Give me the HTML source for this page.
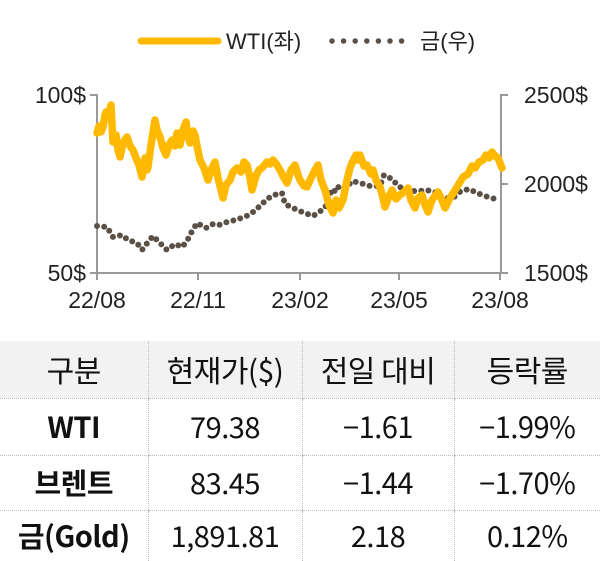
<!DOCTYPE html>
<html><head><meta charset="utf-8"><style>
body{margin:0;background:#fff;width:600px;height:561px;overflow:hidden;font-family:"Liberation Sans","Noto Sans CJK KR",sans-serif;}
table{position:absolute;left:0;top:341px;width:600px;border-collapse:collapse;table-layout:fixed;}
td{text-align:center;color:#111;font-size:29px;line-height:1;padding:0;border-left:1px dotted #bbb;border-bottom:1px dotted #bbb;letter-spacing:-0.5px;font-family:"Noto Sans CJK KR","Liberation Sans",sans-serif;}
td:first-child{border-left:none;}
tr.h td{background:#f2f2f2;font-size:30px;}
tr td:first-child{font-weight:bold;}
tr.h td:first-child{font-weight:normal;}
</style></head><body>
<svg width="600" height="340" style="position:absolute;left:0;top:0" font-family="Liberation Sans, Noto Sans CJK KR, sans-serif">
<line x1="141" y1="41" x2="218" y2="41" stroke="#ffb900" stroke-width="7" stroke-linecap="round"/>
<text x="226" y="49" font-size="22" fill="#222">WTI(좌)</text>
<line x1="332" y1="41" x2="402" y2="41" stroke="#5a5048" stroke-width="5.5" stroke-linecap="round" stroke-dasharray="0 11.6"/>
<text x="420" y="49" font-size="22" fill="#222">금(우)</text>
<g stroke="#999" stroke-width="2" fill="none">
<polyline points="90,95 97,95 97,273 501,273 501,95 508,95"/>
<line x1="90" y1="273" x2="97" y2="273"/><line x1="501" y1="184" x2="508" y2="184"/><line x1="501" y1="273" x2="508" y2="273"/>
<line x1="97" y1="273" x2="97" y2="280"/><line x1="198" y1="273" x2="198" y2="280"/><line x1="300" y1="273" x2="300" y2="280"/><line x1="399" y1="273" x2="399" y2="280"/><line x1="500" y1="273" x2="500" y2="280"/>
</g>
<g font-size="23" fill="#222">
<text x="86" y="103" text-anchor="end">100$</text>
<text x="86" y="281" text-anchor="end">50$</text>
<text x="524" y="103">2500$</text>
<text x="524" y="192">2000$</text>
<text x="524" y="281">1500$</text>
<g text-anchor="middle"><text x="97" y="308">22/08</text><text x="198" y="308">22/11</text><text x="300" y="308">23/02</text><text x="399" y="308">23/05</text><text x="500" y="308">23/08</text></g>
</g>
<polyline fill="none" stroke="#5a5048" stroke-width="6" stroke-linecap="round" stroke-dasharray="0 7.2" points="97,226 107,227 113,237 122,235 128,240 137,243 142,250 148,242 153,236 160,243 167,250 175,244 182,247 187,241 191,233 197,223 206,228 213,224 219,225 227,222 232,221 238,219 245,217 253,212 260,206 267,199 274,195 282,193 285,204 293,208 302,212 313,216 319,212 325,208 328,200 332,189 336,192 339,186 346,188 352,181 360,183 370,186 380,186 384,175 392,179 399,187 406,188 413,191 420,191 426,190 435,192 443,198 453,198 461,191 469,189 477,193 485,196 495,199"/>
<polyline fill="none" stroke="#ffb900" stroke-width="7.5" stroke-linejoin="round" stroke-linecap="round" points="97,133 99,126 101,132 103,127 105,115 106,112 108,118 111,105 112,125 113,142 116,135 118,150 120,157 123,143 127,137 130,146 133,150 136,158 139,165 142,177 144,162 145,158 147,170 148,167 151,145 155,120 157,130 160,137 163,148 166,155 169,145 172,140 175,146 177,133 179,138 180,145 183,130 186,122 188,136 190,143 193,131 195,135 197,146 200,160 204,168 208,180 211,170 215,162 218,178 221,190 223,198 226,185 230,180 233,172 237,168 241,172 244,162 247,165 250,178 252,190 256,176 259,170 262,168 267,162 270,164 273,160 277,165 280,170 284,178 287,183 291,170 295,165 298,175 300,180 304,186 307,187 311,178 315,170 318,165 321,180 325,190 329,205 333,213 336,200 339,208 343,200 347,180 350,168 352,163 356,155 358,160 360,155 364,166 367,165 371,174 373,170 376,180 380,187 383,198 385,207 389,196 392,190 396,199 400,195 404,192 408,188 411,200 415,208 418,198 422,195 425,205 428,212 432,200 435,196 438,192 442,200 445,208 450,198 454,192 457,187 460,182 463,177 468,174 472,166 475,168 479,162 483,160 486,155 489,158 492,152 495,156 498,158 500,163 502,168"/>
</svg>
<table>
<colgroup><col style="width:148px"><col style="width:154px"><col style="width:152px"><col></colgroup>
<tr class="h" style="height:57px"><td>구분</td><td>현재가($)</td><td>전일 대비</td><td>등락률</td></tr>
<tr style="height:57px"><td>WTI</td><td>79.38</td><td>−1.61</td><td>−1.99%</td></tr>
<tr style="height:55px"><td>브렌트</td><td>83.45</td><td>−1.44</td><td>−1.70%</td></tr>
<tr style="height:51px"><td style="border-bottom:none">금(Gold)</td><td style="border-bottom:none">1,891.81</td><td style="border-bottom:none">2.18</td><td style="border-bottom:none">0.12%</td></tr>
</table>
</body></html>
